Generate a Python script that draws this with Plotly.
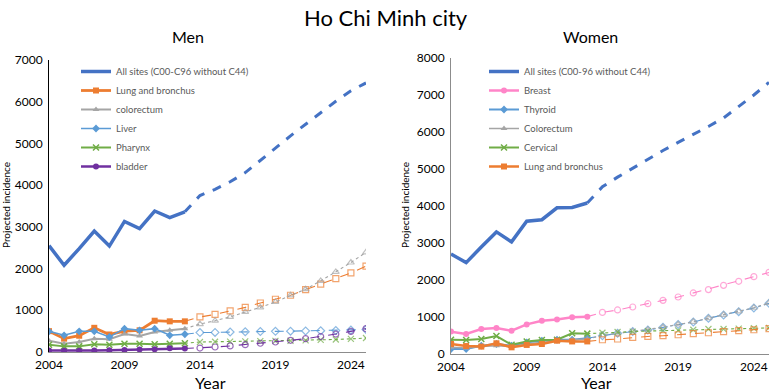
import plotly.graph_objects as go

# ---------------- data ----------------
years_obs = list(range(2004, 2014))
years_proj = list(range(2014, 2026))

# Men
men_all_obs = [2550, 2080, 2480, 2900, 2540, 3130, 2960, 3380, 3220, 3360]
men_all_proj = [3750, 3900, 4080, 4300, 4600, 4900, 5180, 5460, 5740, 6010, 6260, 6450]
men_lung_obs = [500, 320, 390, 580, 420, 500, 520, 750, 735, 735]
men_lung_proj = [840, 900, 985, 1070, 1175, 1265, 1360, 1495, 1625, 1760, 1895, 2060]
men_colo_obs = [270, 200, 240, 320, 305, 430, 385, 480, 520, 560]
men_colo_proj = [670, 750, 840, 960, 1070, 1200, 1360, 1505, 1705, 1920, 2145, 2390]
men_liver_obs = [495, 400, 495, 495, 360, 560, 520, 560, 400, 425]
men_liver_proj = [465, 470, 480, 485, 490, 495, 500, 505, 510, 515, 525, 540]
men_phar_obs = [175, 135, 135, 185, 175, 200, 200, 185, 200, 210]
men_phar_proj = [240, 245, 250, 255, 260, 265, 270, 280, 290, 300, 315, 335]
men_blad_obs = [35, 30, 30, 35, 40, 50, 60, 65, 90, 85]
men_blad_proj = [95, 120, 145, 175, 210, 240, 280, 320, 370, 430, 495, 560]

# Women
wom_all_obs = [2700, 2470, 2890, 3300, 3030, 3590, 3630, 3950, 3960, 4080]
wom_all_proj = [4520, 4780, 5020, 5280, 5500, 5720, 5930, 6150, 6380, 6680, 7000, 7340]
wom_breast_obs = [605, 540, 675, 705, 630, 800, 900, 930, 990, 1010]
wom_breast_proj = [1125, 1190, 1270, 1360, 1450, 1540, 1650, 1740, 1855, 1965, 2090, 2205]
wom_thy_obs = [135, 135, 225, 270, 225, 315, 360, 385, 385, 425]
wom_thy_proj = [495, 560, 605, 650, 720, 795, 865, 965, 1055, 1145, 1245, 1370]
wom_colo_obs = [180, 160, 200, 225, 200, 270, 315, 360, 385, 405]
wom_colo_proj = [500, 560, 610, 655, 725, 800, 870, 970, 1060, 1150, 1250, 1380]
wom_cerv_obs = [385, 380, 405, 485, 250, 340, 380, 385, 560, 550]
wom_cerv_proj = [575, 595, 605, 620, 630, 640, 655, 675, 675, 685, 695, 705]
wom_lung_obs = [270, 215, 200, 290, 180, 245, 270, 360, 340, 340]
wom_lung_proj = [385, 405, 450, 475, 495, 520, 550, 575, 605, 630, 655, 685]

men_series = [
    ("All sites (C00-C96 without C44)", men_all_obs, men_all_proj, "#4472C4", None, 3.5, "dash"),
    ("Lung and bronchus", men_lung_obs, men_lung_proj, "#ED7D31", "square", 2.8, "dash"),
    ("colorectum", men_colo_obs, men_colo_proj, "#A5A5A5", "triangle-up", 2, "dot"),
    ("Liver", men_liver_obs, men_liver_proj, "#5B9BD5", "diamond", 1.5, "dash"),
    ("Pharynx", men_phar_obs, men_phar_proj, "#70AD47", "x-thin", 2, "dot"),
    ("bladder", men_blad_obs, men_blad_proj, "#7030A0", "circle", 2.5, "dash"),
]
wom_series = [
    ("All sites (C00-96 without C44)", wom_all_obs, wom_all_proj, "#4472C4", None, 3.5, "dash"),
    ("Breast", wom_breast_obs, wom_breast_proj, "#FF85C8", "circle", 2.5, "dash"),
    ("Thyroid", wom_thy_obs, wom_thy_proj, "#5B9BD5", "diamond", 2, "dashdot"),
    ("Colorectum", wom_colo_obs, wom_colo_proj, "#A5A5A5", "triangle-up", 1.5, "dot"),
    ("Cervical", wom_cerv_obs, wom_cerv_proj, "#70AD47", "x-thin", 2, "dot"),
    ("Lung and bronchus", wom_lung_obs, wom_lung_proj, "#ED7D31", "square", 2.5, "dash"),
]

FONT = "Lato, Open Sans, sans-serif"
fig = go.Figure()


def add_panel(series, xa, ya, legend):
    # projections first (behind)
    for name, obs, proj, color, sym, w, dash in series:
        xs = [years_obs[-1]] + years_proj
        ys = [obs[-1]] + proj
        if sym is None:
            fig.add_trace(go.Scatter(x=xs, y=ys, mode="lines", xaxis=xa, yaxis=ya,
                                     line=dict(color=color, width=3, dash="dash"),
                                     showlegend=False, hoverinfo="skip"))
        else:
            sizes = [0] + [6] * len(proj)
            fig.add_trace(go.Scatter(x=xs, y=ys, mode="lines+markers", xaxis=xa, yaxis=ya,
                                     line=dict(color=color, width=1.1, dash=dash),
                                     marker=dict(symbol=sym + "-open", size=sizes, color=color,
                                                 line=dict(color=color, width=1.2)),
                                     showlegend=False, hoverinfo="skip"))
    for name, obs, proj, color, sym, w, dash in series:
        if sym is None:
            fig.add_trace(go.Scatter(x=years_obs, y=obs, mode="lines", name=name,
                                     xaxis=xa, yaxis=ya, legend=legend,
                                     line=dict(color=color, width=w)))
        else:
            mk = dict(symbol=sym, size=6, color=color, line=dict(width=0))
            if sym == "x-thin":
                mk["line"] = dict(color=color, width=1.5)
            fig.add_trace(go.Scatter(x=years_obs, y=obs, mode="lines+markers", name=name,
                                     xaxis=xa, yaxis=ya, legend=legend,
                                     line=dict(color=color, width=w), marker=mk))


add_panel(men_series, "x", "y", "legend")
add_panel(wom_series, "x2", "y2", "legend2")

axis_common = dict(showgrid=False, zeroline=False, showline=True,
                   linewidth=1, ticks="", automargin=False,
                   tickfont=dict(family=FONT, size=12, color="#000000"))


def ann(text, x, y, size, angle=0):
    return dict(text=text, x=x / 773, y=1 - y / 392, xref="paper", yref="paper",
                xanchor="center", yanchor="middle", textangle=angle, showarrow=False,
                font=dict(family=FONT, size=size, color="#000000"))


legend_font = dict(family=FONT, size=9.5, color="#595959")
year_ticks = [2004, 2009, 2014, 2019, 2024]

fig.update_layout(
    template="none",
    width=773, height=392,
    margin=dict(l=0, r=0, t=0, b=0, autoexpand=False),
    paper_bgcolor="white", plot_bgcolor="white",
    font=dict(family=FONT, color="#000000"),
    xaxis=dict(domain=[49 / 773, 366 / 773], range=[2004, 2025], tickvals=year_ticks,
               anchor="y", linecolor="#8C8C8C", ticklabelstandoff=2, **axis_common),
    yaxis=dict(domain=[1 - 352 / 392, 1 - 60 / 392], range=[0, 7000], dtick=1000, anchor="x",
               linecolor="#000000", ticklabelstandoff=3, **axis_common),
    xaxis2=dict(domain=[451 / 773, 769 / 773], range=[2004, 2025], tickvals=year_ticks,
                anchor="y2", linecolor="#8C8C8C", ticklabelstandoff=2, **axis_common),
    yaxis2=dict(domain=[1 - 354 / 392, 1 - 58 / 392], range=[0, 8000], dtick=1000, anchor="x2",
                linecolor="#8C8C8C", ticklabelstandoff=3, **axis_common),
    legend=dict(x=76 / 773, y=1 - 57 / 392, xanchor="left", yanchor="top",
                bgcolor="rgba(255,255,255,0)", font=legend_font,
                itemwidth=30, tracegroupgap=0),
    legend2=dict(x=484 / 773, y=1 - 57 / 392, xanchor="left", yanchor="top",
                 bgcolor="rgba(255,255,255,0)", font=legend_font,
                 itemwidth=30, tracegroupgap=0),
    annotations=[
        ann("Ho Chi Minh city", 386, 17, 22),
        ann("Men", 188, 37, 16),
        ann("Women", 590, 37, 16),
        ann("Year", 211, 382.5, 16),
        ann("Year", 596, 382.5, 16),
        ann("Projected incidence", 6, 205, 10, -90),
        ann("Projected incidence", 405, 205, 10, -90),
    ],
)

fig.write_html("out.html", config={"displayModeBar": False},
               post_script="document.body.style.margin='0';")
